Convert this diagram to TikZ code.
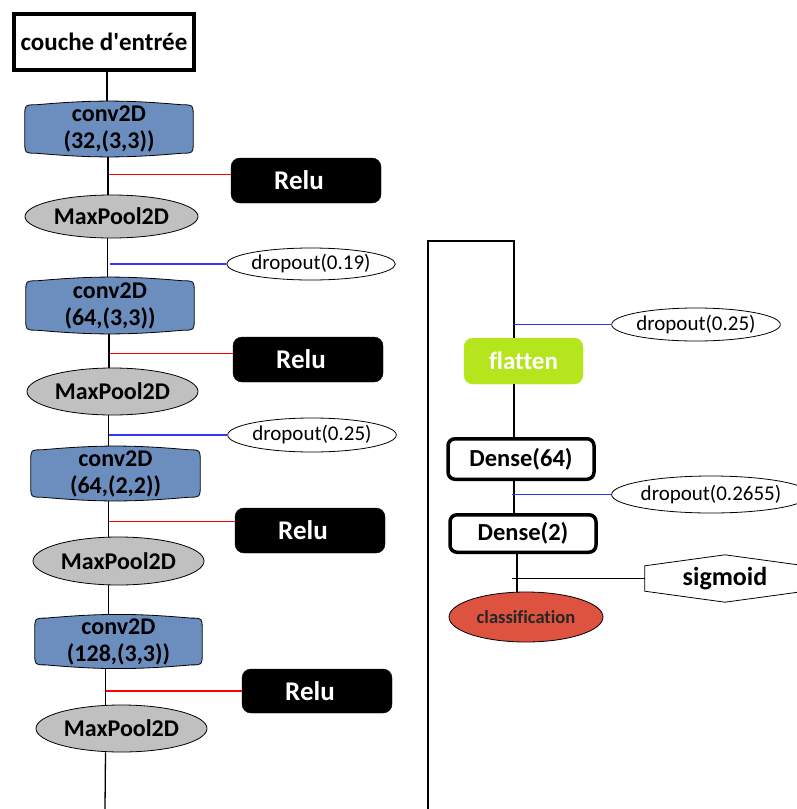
\documentclass[tikz,border=0pt]{standalone}
\usepackage{fontspec}
\setmainfont{Carlito}[Ligatures={TeXOff,CommonOff}]
\usetikzlibrary{shapes.geometric,backgrounds}
% barrel-like outline of a convolution block, drawn round the named node
\newcommand\convoutline[1]{%
  \filldraw[convshape] ([xshift=11pt]#1.north west) to[bend left=5] ([xshift=-11pt]#1.north east)
    .. controls (#1.north east) .. ([yshift=-11pt]#1.north east)
    -- ([yshift=11pt]#1.south east)
    .. controls (#1.south east) .. ([xshift=-11pt]#1.south east)
    to[bend left=5] ([xshift=11pt]#1.south west)
    .. controls (#1.south west) .. ([yshift=11pt]#1.south west)
    -- ([yshift=-11pt]#1.north west)
    .. controls (#1.north west) .. ([xshift=11pt]#1.north west) -- cycle;}
\begin{document}
\begin{tikzpicture}[x=1pt,y=-1pt,
  every node/.style={inner sep=0pt, align=center},
  link/.style={line width=1.3pt, black},
  actlink/.style={line width=1.5pt, red},
  droplink/.style={line width=1.5pt, blue!80!white},
  inputbox/.style={draw, line width=4pt, minimum width=180pt, minimum height=56pt, font=\bfseries\fontsize{25}{28}\selectfont},
  convbox/.style={font=\bfseries\fontsize{24}{27}\selectfont},
  convshape/.style={draw=black, line width=0.8pt, fill=convblue},
  poolell/.style={draw, ellipse, line width=0.8pt, fill=poolgray, font=\bfseries\fontsize{24}{26}\selectfont},
  relubox/.style={draw, fill=black, text=white, rounded corners=9pt, minimum width=150pt, minimum height=45pt, font=\bfseries\fontsize{27}{29}\selectfont},
  dropell/.style={draw, ellipse, line width=0.8pt, fill=white, font=\fontsize{21}{24}\selectfont},
  densebox/.style={draw, line width=3.5pt, rounded corners=7pt, minimum width=146pt, font=\bfseries\fontsize{24.5}{27}\selectfont},
]
\definecolor{convblue}{HTML}{6C8EBF}
\definecolor{poolgray}{HTML}{C0C0C0}
\definecolor{flatgreen}{HTML}{B5E61D}
\definecolor{classred}{HTML}{DD5340}
\useasboundingbox (0,0) rectangle (797,809);

% input and convolution trunk
\node[inputbox] (in) at (104,42) {couche d'entrée};

\node[convbox, minimum width=168pt, minimum height=48pt] (c1) at (109,129) {conv2D\\(32,(3,3))};
\node[relubox] (r1) at (306,180.5) {Relu\kern14pt};
\node[poolell, minimum width=173pt, minimum height=43pt] (m1) at (111.5,216.5) {MaxPool2D};
\node[dropell, minimum width=148pt, minimum height=32pt] (d1) at (311,264) {dropout(0.19)};

\node[convbox, minimum width=168pt, minimum height=49pt] (c2) at (110,305.5) {conv2D\\(64,(3,3))};
\node[relubox] (r2) at (308,359.5) {Relu\kern14pt};
\node[poolell, minimum width=171pt, minimum height=47pt] (m2) at (112.5,391.5) {MaxPool2D};
\node[dropell, minimum width=162pt, minimum height=34pt] (d2) at (312,435) {dropout(0.25)};

\node[convbox, minimum width=169pt, minimum height=47pt] (c3) at (115.5,473.5) {conv2D\\(64,(2,2))};
\node[relubox] (r3) at (310,530.5) {Relu\kern14pt};
\node[poolell, minimum width=171pt, minimum height=48pt] (m3) at (118.5,561) {MaxPool2D};

\node[convbox, minimum width=167pt, minimum height=45pt] (c4) at (118.5,641.5) {conv2D\\(128,(3,3))};
\node[relubox, minimum height=44pt] (r4) at (317,691) {Relu\kern14pt};
\node[poolell, minimum width=171pt, minimum height=47pt] (m4) at (121.5,728.5) {MaxPool2D};

\coordinate (trunkend) at (105,809);

\begin{scope}[on background layer]
\draw[link] ([xshift=3pt]in.south) -- ([xshift=3pt]in.south |- c1.north);
\draw[link] ([xshift=-1pt]c1.south) -- ([xshift=-1pt]c1.south |- m1.north);
\draw[link] ([xshift=-4pt]m1.south) -- ([xshift=-4pt]m1.south |- c2.north);
\draw[link] ([xshift=-1pt]c2.south) -- ([xshift=-1pt]c2.south |- m2.north);
\draw[link] ([xshift=-4pt]m2.south) -- ([xshift=-4pt]m2.south |- c3.north);
\draw[link] ([xshift=-7pt]c3.south) -- ([xshift=-7pt]c3.south |- m3.north);
\draw[link] ([xshift=-10pt]m3.south) -- ([xshift=-10pt]m3.south |- c4.north);
\draw[link] ([xshift=-13pt]c4.south) -- ([xshift=-13pt]c4.south |- m4.north);
\draw[link] ([xshift=-16pt]m4.south) -- (trunkend);
\convoutline{c1}
\convoutline{c2}
\convoutline{c3}
\convoutline{c4}
\end{scope}

% activation and dropout side branches
\draw[actlink] ([yshift=6pt]r1.west) -- ([yshift=6pt]r1.west -| c1.south);
\draw[actlink] ([yshift=6pt]r2.west) -- ([yshift=6pt]r2.west -| c2.south);
\draw[actlink] ([yshift=9pt]r3.west) -- ([xshift=-7pt,yshift=9pt]r3.west -| c3.south);
\draw[actlink] (r4.west) -- ([xshift=-13pt]r4.west -| c4.south);
\draw[droplink] (d1.west) -- ([xshift=-2pt]d1.west -| m1.south);
\draw[droplink] (d2.west) -- ([xshift=-4pt]d2.west -| m2.south);

% dense part
\coordinate (leftbot) at (428,809);
\coordinate (lefttop) at (428,241);
\coordinate (righttop) at (514,241);

\node[draw=flatgreen, fill=flatgreen, rounded corners=9pt, minimum width=119pt, minimum height=46pt, text=white, font=\bfseries\fontsize{25}{28}\selectfont] (fl) at (523.5,361) {flatten};
\node[dropell, minimum width=164pt, minimum height=33pt] (d3) at (696,324.5) {dropout(0.25)};
\node[densebox, minimum height=40.5pt] (de1) at (521,459) {Dense(64)};
\node[dropell, minimum width=182pt, minimum height=37pt] (d4) at (711,494.5) {dropout(0.2655)};
\node[densebox, minimum height=37.5pt] (de2) at (523,533.5) {Dense(2)};
\node[draw, ellipse, line width=0.8pt, fill=classred, minimum width=154pt, minimum height=50pt, font=\bfseries\fontsize{18.5}{20}\selectfont, text=black!85] (cl) at (526,617) {classification};
\node[minimum width=160pt, minimum height=25pt, font=\bfseries\fontsize{26}{28}\selectfont] (sg) at (725,578.5) {sigmoid};
\draw[line width=0.8pt] (sg.north west) -- ([yshift=11pt]sg.north) -- (sg.north east) -- (sg.south east) -- ([yshift=-11pt]sg.south) -- (sg.south west) -- cycle;

\draw[link] (leftbot) -- (lefttop) -- (righttop) -- (righttop |- fl.north);
\draw[link] ([xshift=-9.5pt]fl.south) -- ([xshift=-9.5pt]fl.south |- de1.north);
\draw[link] ([xshift=-7pt]de1.south) -- ([xshift=-7pt]de1.south |- de2.north);
\draw[link] ([xshift=-6pt]de2.south) -- ([xshift=-6pt]de2.south |- cl.north);
\draw[droplink] (d3.west) -- (d3.west -| righttop);
\draw[droplink] (d4.west) -- ([xshift=-9pt]d4.west -| de1.south);
\draw[link] (sg.west) -- ([xshift=-11pt]sg.west -| de2.south);
\end{tikzpicture}
\end{document}
